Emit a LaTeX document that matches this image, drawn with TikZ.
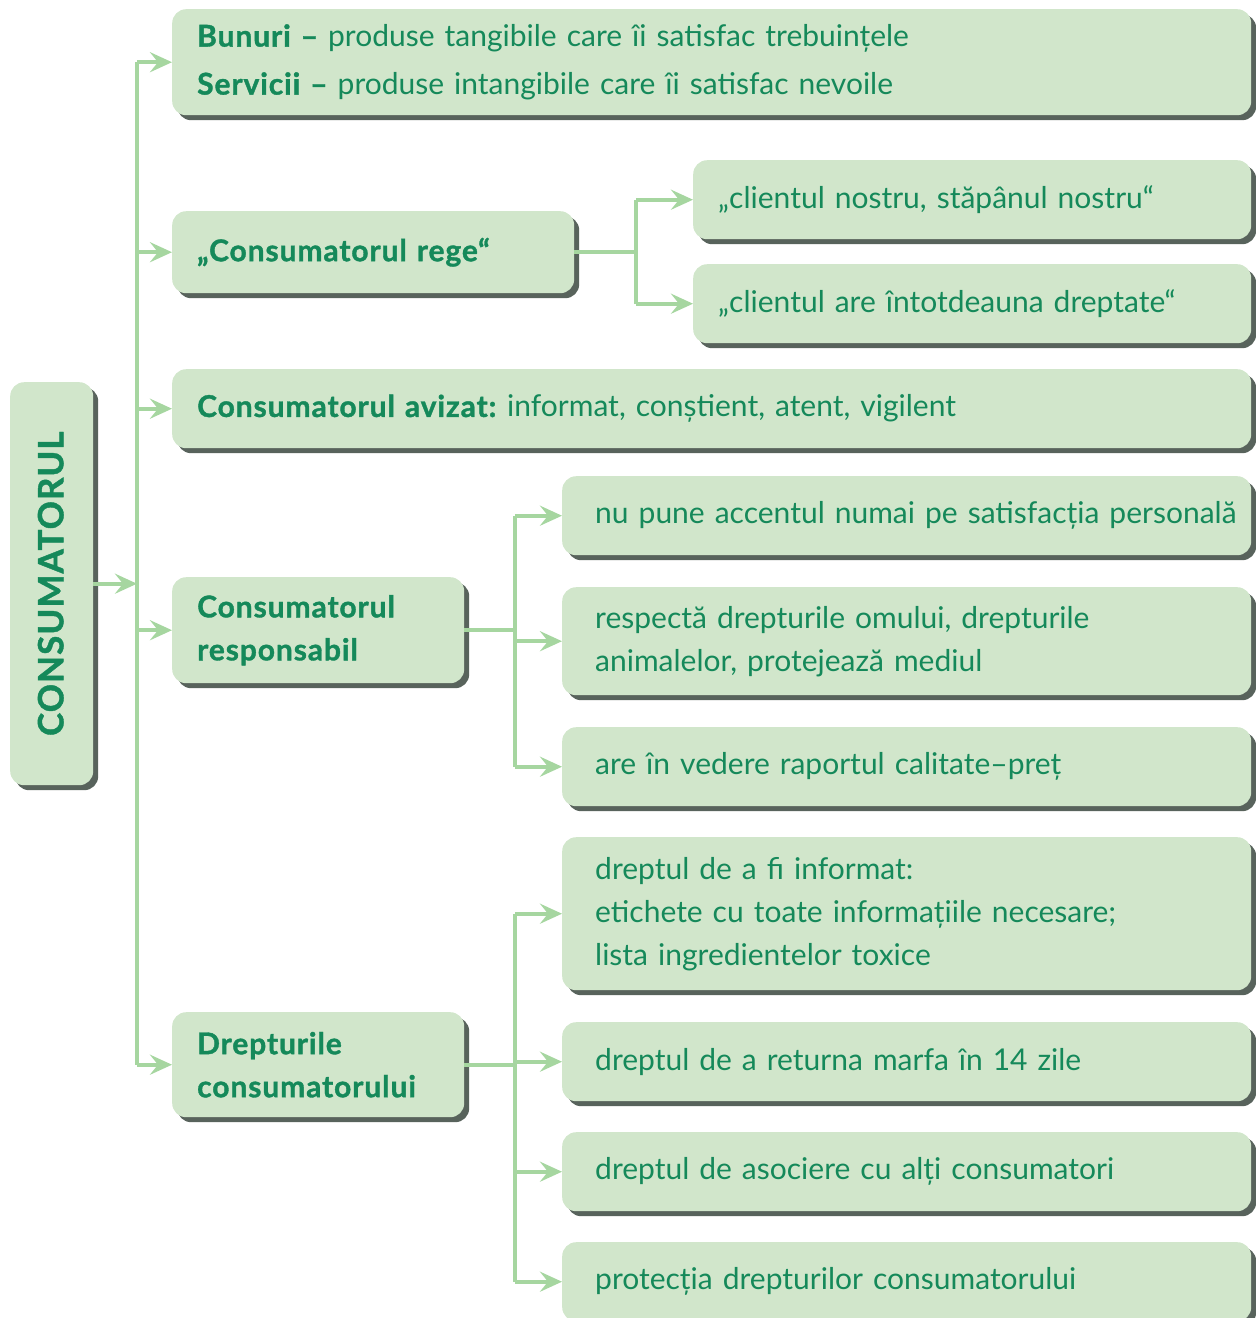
\documentclass[tikz,border=0pt]{standalone}
\usepackage{fontspec}
\setmainfont{Lato}[BoldFeatures={FakeBold=1.2,LetterSpace=3}]
\frenchspacing
\usetikzlibrary{arrows.meta,shadows}
\definecolor{boxfill}{HTML}{D1E6CB}
\definecolor{txt}{HTML}{15895A}
\definecolor{linkcol}{HTML}{A6D6A0}
\definecolor{shadowcol}{HTML}{46524A}
\begin{document}
\begin{tikzpicture}[x=1pt,y=-1pt,
  box/.style={fill=boxfill, rounded corners=14pt, anchor=north west, align=left,
    font=\fontsize{30}{43}\selectfont, text=txt, inner ysep=0pt,
    drop shadow={shadow xshift=5pt, shadow yshift=-5pt, fill=shadowcol, opacity=0.9}},
  link/.style={draw=linkcol, line width=4pt},
  arr/.style={link, -{Stealth[length=22pt,width=20pt,inset=8pt]}}]
\useasboundingbox (0,0) rectangle (1256,1318);
\clip (0,0) rectangle (1256,1318);
% main box
\node[box, minimum width=83pt, minimum height=403pt, inner xsep=0pt] (cons) at (10,382) {};
\node[rotate=90, text=txt, font=\fontsize{35}{40}\selectfont\bfseries] (consT) at ([xshift=-1pt]cons.center) {CONSUMATORUL};
% first level
\node[box, minimum width=1079pt, minimum height=106pt, inner xsep=25pt, text width=1029pt] (b1) at (172,9)
  {\textbf{Bunuri –} produse tangibile care îi satisfac trebuințele\\[5pt]\textbf{Servicii –} produse intangibile care îi satisfac nevoile};
\node[box, minimum width=402pt, minimum height=82pt, inner xsep=25pt, text width=352pt] (rege) at (172,211)
  {\textbf{„Consumatorul rege“}};
\node[box, minimum width=558pt, minimum height=79pt, inner xsep=25pt, text width=508pt] (cn) at (693,160)
  {„clientul nostru, stăpânul nostru“};
\node[box, minimum width=558pt, minimum height=79pt, inner xsep=25pt, text width=508pt] (ca) at (693,264)
  {„clientul are întotdeauna dreptate“};
\node[box, minimum width=1079pt, minimum height=79pt, inner xsep=25pt, text width=1029pt] (aviz) at (172,369)
  {\textbf{Consumatorul avizat:} informat, conștient, atent, vigilent};
\node[box, minimum width=292pt, minimum height=106pt, inner xsep=25pt, text width=242pt] (resp) at (172,577)
  {\textbf{Consumatorul}\\\textbf{responsabil}};
\node[box, minimum width=689pt, minimum height=79pt, inner xsep=33pt, text width=623pt] (r1) at (562,476)
  {\mbox{nu pune accentul numai pe satisfacția personală}};
\node[box, minimum width=689pt, minimum height=108pt, inner xsep=33pt, text width=623pt] (r2) at (562,587)
  {respectă drepturile omului, drepturile\\animalelor, protejează mediul};
\node[box, minimum width=689pt, minimum height=79pt, inner xsep=33pt, text width=623pt] (r3) at (562,727)
  {are în vedere raportul calitate–preț};
\node[box, minimum width=292pt, minimum height=105pt, inner xsep=25pt, text width=242pt] (drep) at (172,1012)
  {\textbf{Drepturile}\\\textbf{consumatorului}};
\node[box, minimum width=689pt, minimum height=153pt, inner xsep=33pt, text width=623pt] (d1) at (562,837)
  {dreptul de a fi informat:\\etichete cu toate informațiile necesare;\\lista ingredientelor toxice};
\node[box, minimum width=689pt, minimum height=79pt, inner xsep=33pt, text width=623pt] (d2) at (562,1022)
  {dreptul de a returna marfa în 14 zile};
\node[box, minimum width=689pt, minimum height=79pt, inner xsep=33pt, text width=623pt] (d3) at (562,1132)
  {dreptul de asociere cu alți consumatori};
\node[box, minimum width=689pt, minimum height=79pt, inner xsep=33pt, text width=623pt] (d4) at (562,1242)
  {protecția drepturilor consumatorului};
% junction coordinates
\coordinate (trunk) at (137,0);
\coordinate (jr) at (636,0);
\coordinate (js) at (515,0);
% trunk
\draw[link] (trunk |- b1.west) -- (trunk |- drep.west);
\draw[arr] (cons.east) -- (trunk |- cons.east);
\foreach \n in {b1,rege,aviz,resp,drep} \draw[arr] (trunk |- \n.west) -- (\n.west);
% rege branch
\draw[link] (rege.east) -- (jr |- rege.east);
\draw[link] (jr |- cn.west) -- (jr |- ca.west);
\foreach \n in {cn,ca} \draw[arr] (jr |- \n.west) -- (\n.west);
% responsabil branch
\draw[link] (resp.east) -- (js |- resp.east);
\draw[link] (js |- r1.west) -- (js |- r3.west);
\foreach \n in {r1,r2,r3} \draw[arr] (js |- \n.west) -- (\n.west);
% drepturi branch
\draw[link] (drep.east) -- (js |- drep.east);
\draw[link] (js |- d1.west) -- (js |- d4.west);
\foreach \n in {d1,d2,d3,d4} \draw[arr] (js |- \n.west) -- (\n.west);
\end{tikzpicture}
\end{document}
